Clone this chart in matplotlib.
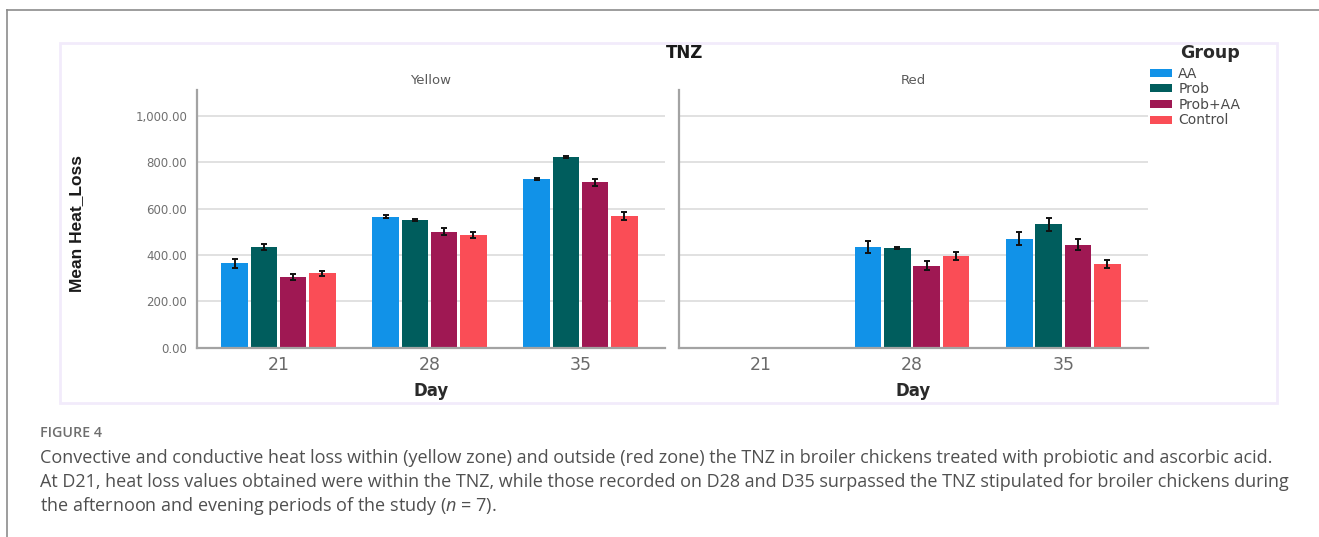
import numpy as np
import matplotlib
matplotlib.use('Agg')
import matplotlib.pyplot as plt
from matplotlib.patches import Rectangle
from matplotlib.lines import Line2D

# mean heat loss per group (rows) and day (columns), with error bar half-widths
days = ['21', '28', '35']
groups = ['AA', 'Prob', 'Prob+AA', 'Control']
colors = ['#1192e8', '#005d5d', '#9f1853', '#fa4d56']

yellow_mean = [[365, 566, 727],
               [436, 552, 825],
               [307, 501, 714],
               [321, 486, 569]]
yellow_err = [[19, 6, 4],
              [14, 6, 4],
              [13, 14, 16],
              [11, 14, 16]]

red_mean = [[np.nan, 436, 471],
            [np.nan, 429, 533],
            [np.nan, 354, 444],
            [np.nan, 396, 362]]
red_err = [[np.nan, 26, 29],
           [np.nan, 4, 27],
           [np.nan, 19, 24],
           [np.nan, 16, 17]]

yticks = [0, 200, 400, 600, 800, 1000]

caption_lines = [
    "Convective and conductive heat loss within (yellow zone) and outside (red zone) the TNZ in broiler chickens treated with probiotic and ascorbic acid.",
    "At D21, heat loss values obtained were within the TNZ, while those recorded on D28 and D35 surpassed the TNZ stipulated for broiler chickens during",
    "the afternoon and evening periods of the study ($\\mathit{n}$ = 7).",
]

plt.rcParams['mathtext.fontset'] = 'custom'
plt.rcParams['mathtext.it'] = 'Open Sans:italic'
plt.rcParams['mathtext.rm'] = 'Open Sans'

W, H = 1319, 537
fig = plt.figure(figsize=(W / 100, H / 100), dpi=100)


def fx(x):
    return x / W


def fy(y):
    return 1 - y / H


# outer page frame and the light chart box, kept behind the axes
fig.add_artist(Line2D([fx(6.5), fx(6.5)], [fy(9.5), fy(537)], color='#8c8c8c', lw=1.2, zorder=-5))
fig.add_artist(Line2D([fx(6.5), 1], [fy(9.5), fy(9.5)], color='#8c8c8c', lw=1.2, zorder=-5))
fig.add_artist(Rectangle((fx(60), fy(403)), fx(1277) - fx(60), fy(43) - fy(403),
                         facecolor='white', edgecolor='#f2ebfb', lw=2.0, zorder=-5))

y0, y1 = 347.7, 90
ax1 = fig.add_axes([fx(197), fy(y0), 468 / W, (y0 - y1) / H])
ax2 = fig.add_axes([fx(679), fy(y0), 469 / W, (y0 - y1) / H])

step = 0.194
width = 0.176
x = np.arange(len(days))
handles = []
for ax, means, errs, title in [(ax1, yellow_mean, yellow_err, 'Yellow'),
                               (ax2, red_mean, red_err, 'Red')]:
    ax.patch.set_alpha(0)
    for i, g in enumerate(groups):
        pos = x + (i - 1.5) * step
        b = ax.bar(pos, means[i], width, color=colors[i], label=g, zorder=2)
        ax.errorbar(pos, means[i], yerr=errs[i], fmt='none', ecolor='#111111',
                    elinewidth=1.4, capsize=2.2, capthick=1.4, zorder=3)
        if ax is ax1:
            handles.append(b)
    ax.set_xlim(-0.54, 2.56)
    ax.set_ylim(0, 1113)
    ax.set_yticks(yticks)
    ax.yaxis.grid(True, color='#dcdcdc', lw=1.2, zorder=0)
    ax.set_axisbelow(True)
    for s in ['top', 'right']:
        ax.spines[s].set_visible(False)
    for s in ['left', 'bottom']:
        ax.spines[s].set_color('#a3a3a3')
        ax.spines[s].set_linewidth(1.6)
    ax.set_xticks(x)
    ax.set_xticklabels(days)
    ax.tick_params(axis='x', length=0, pad=6, labelsize=12.5, labelcolor='#6a6a6a')
    ax.tick_params(axis='y', length=0, pad=7, labelsize=8.5, labelcolor='#707070')
    ax.set_xlabel('Day', fontsize=12, fontweight='bold', color='#2a2a2a', labelpad=6)
    ax.set_title(title, fontsize=9.5, color='#5a5a5a', pad=4)

ax1.set_yticklabels(['{:,.2f}'.format(v) for v in yticks])
ax2.tick_params(axis='y', labelleft=False)

fig.text(fx(77), fy(224), 'Mean Heat_Loss', rotation=90, ha='center', va='center',
         fontsize=12.5, family=['Liberation Sans Narrow', 'Liberation Sans'],
         fontweight='bold', color='#1a1a1a')
fig.text(fx(685), fy(53), 'TNZ', ha='center', va='center', fontsize=12,
         fontweight='bold', color='#1a1a1a')

# legend: title placed on its own, entries below
fig.text(fx(1210), fy(53), 'Group', ha='center', va='center', fontsize=12.5,
         fontweight='bold', color='#2a2a2a')
leg = fig.legend(handles=handles, labels=groups, loc='upper left',
                 bbox_to_anchor=(fx(1150), fy(66.5)), frameon=False, fontsize=10,
                 handlelength=1.58, handleheight=0.5, handletextpad=0.45,
                 labelspacing=0.12, borderpad=0, borderaxespad=0)
for t in leg.get_texts():
    t.set_color('#4a4a4a')

# caption under the chart
fig.text(fx(40), fy(433), 'FIGURE 4', ha='left', va='center', fontsize=10.3,
         family='Open Sans', fontweight='semibold', color='#6e6e6e')
for k, line in enumerate(caption_lines):
    fig.text(fx(40), fy(458 + 24 * k), line, ha='left', va='center',
             fontsize=13.0, family='Open Sans', color='#505050')

fig.savefig('out.png', dpi=100, facecolor='white')
